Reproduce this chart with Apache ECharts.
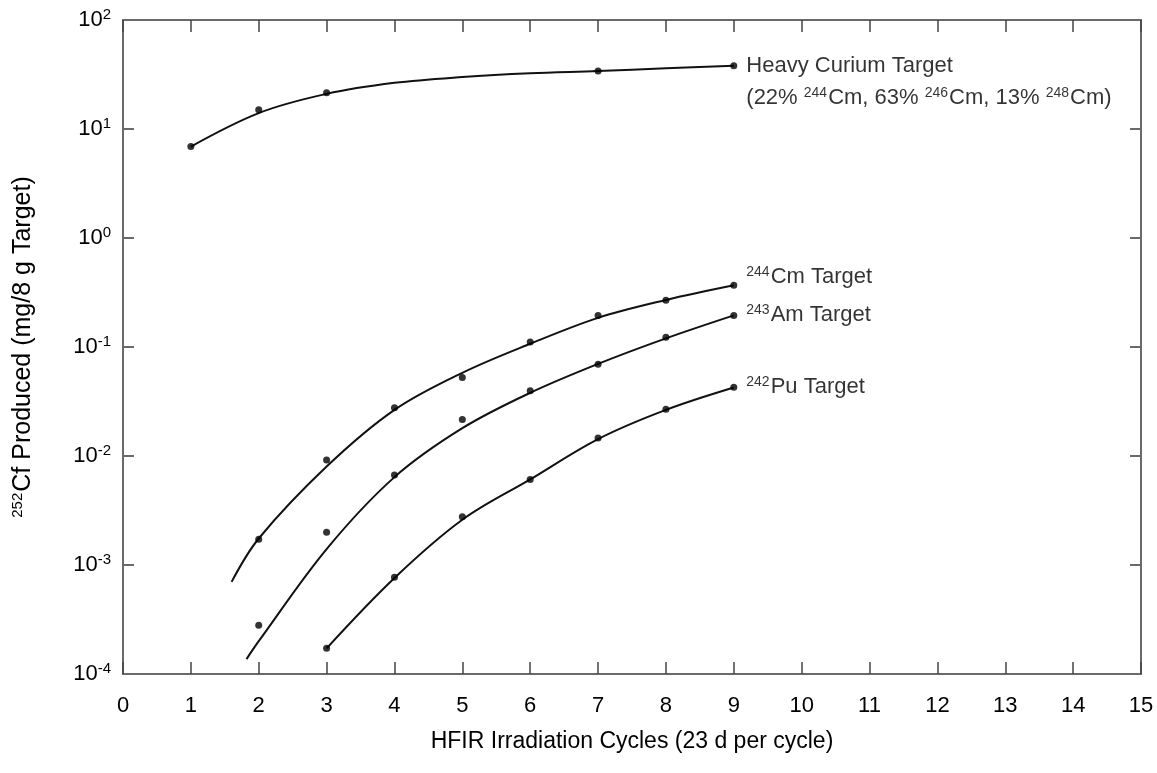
<!DOCTYPE html>
<html>
<head>
<meta charset="utf-8">
<script src="https://cdn.jsdelivr.net/npm/echarts@6/dist/echarts.min.js"></script>
<style>html,body{margin:0;padding:0;background:#fff;}#c{width:1157px;height:773px;}</style>
</head>
<body>
<div id="c"></div>
<script>
// ---- data ----
const xTicks = [0,1,2,3,4,5,6,7,8,9,10,11,12,13,14,15];

// measured points
const heavyPtX = [1, 2, 3, 7, 9];
const heavyPtY = [6.9, 15, 21.5, 34, 38];
const cm244PtX = [2, 3, 4, 5, 6, 7, 8, 9];
const cm244PtY = [1.72e-3, 9.2e-3, 0.0277, 0.0525, 0.111, 0.195, 0.268, 0.368];
const am243PtX = [2, 3, 4, 5, 6, 7, 8, 9];
const am243PtY = [2.8e-4, 2.0e-3, 6.7e-3, 0.0216, 0.0396, 0.0695, 0.123, 0.195];
const pu242PtX = [3, 4, 5, 6, 7, 8, 9];
const pu242PtY = [1.72e-4, 7.7e-4, 2.77e-3, 6.1e-3, 0.0146, 0.0269, 0.0428];

// fitted curves
const heavyCurveX = [1, 2, 3, 4, 5, 6, 7, 8, 9];
const heavyCurveY = [6.9, 14, 21, 26.5, 30, 32.5, 34, 36, 38];
const cm244CurveX = [1.6, 2, 3, 4, 5, 6, 7, 8, 9];
const cm244CurveY = [7e-4, 1.75e-3, 8e-3, 0.0265, 0.058, 0.107, 0.185, 0.27, 0.368];
const am243CurveX = [1.82, 2, 3, 4, 5, 6, 7, 8, 9];
const am243CurveY = [1.37e-4, 2.0e-4, 1.4e-3, 6.4e-3, 0.018, 0.038, 0.07, 0.12, 0.195];
const pu242CurveX = [3, 4, 5, 6, 7, 8, 9];
const pu242CurveY = [1.72e-4, 7.6e-4, 2.6e-3, 6.1e-3, 0.0143, 0.0265, 0.0425];

const heavyLabel = '{t|Heavy Curium Target}\n{t|(22% }{s|244}{t|Cm, 63% }{s|246}{t|Cm, 13% }{s|248}{t|Cm)}';
const cm244Label = '{s|244}{t|Cm Target}';
const am243Label = '{s|243}{t|Am Target}';
const pu242Label = '{s|242}{t|Pu Target}';

// ---- chart ----
const FONT = 'Liberation Sans, Arial, sans-serif';
const TXT = '#000';
const AX = '#6a6a6a';
const rich = {
  t: {fontSize: 22, fontFamily: FONT, color: TXT, lineHeight: 32},
  s: {fontSize: 14, fontFamily: FONT, color: TXT, lineHeight: 32, padding: [0, 1, 10, 0]}
};
const pairs = (xs, ys) => xs.map((x, i) => [x, ys[i]]);

function curve(xs, ys) {
  return {
    type: 'line', data: pairs(xs, ys), smooth: 0.35, showSymbol: false, silent: true,
    lineStyle: {color: '#111', width: 2}, z: 3
  };
}
function points(xs, ys, labelText, offsetY) {
  const data = xs.map((x, i) => {
    const d = {value: [x, ys[i]]};
    if (i === xs.length - 1) {
      d.label = {
        show: true, position: 'right', distance: 9, offset: [0, offsetY],
        formatter: labelText, rich: rich, align: 'left', color: TXT
      };
    }
    return d;
  });
  return {
    type: 'scatter', data: data, symbol: 'circle', symbolSize: 7,
    itemStyle: {color: '#000'}, z: 4, label: {show: false}
  };
}

const chart = echarts.init(document.getElementById('c'), null, {renderer: 'canvas'});
const yFmt = v => {
  const e = Math.round(Math.log10(v));
  return '{b|10}{e|' + e + '}';
};
chart.setOption({
  backgroundColor: '#fff',
  animation: false,
  grid: {left: 123, right: 16, top: 20, bottom: 99, containLabel: false},
  xAxis: [{
    type: 'value', min: 0, max: 15, interval: 1,
    axisLine: {show: true, onZero: false, lineStyle: {color: AX, width: 2}},
    axisTick: {show: true, inside: true, length: 12, lineStyle: {color: '#444', width: 1.5}},
    axisLabel: {fontSize: 22, fontFamily: FONT, color: TXT, margin: 21,
      formatter: v => String(v)},
    splitLine: {show: false},
    name: 'HFIR Irradiation Cycles (23 d per cycle)', nameLocation: 'middle', nameGap: 56,
    nameTextStyle: {fontSize: 23, fontFamily: FONT, color: TXT}
  }, {
    type: 'value', min: 0, max: 15, interval: 1, position: 'top',
    axisLine: {show: true, onZero: false, lineStyle: {color: AX, width: 2}},
    axisTick: {show: true, inside: true, length: 12, lineStyle: {color: '#444', width: 1.5}},
    axisLabel: {show: false}, splitLine: {show: false}
  }],
  yAxis: [{
    type: 'log', logBase: 10, min: 1e-4, max: 100, interval: 1,
    axisLine: {show: true, onZero: false, lineStyle: {color: AX, width: 2}},
    axisTick: {show: true, inside: true, length: 11, lineStyle: {color: AX, width: 2}},
    axisLabel: {margin: 12, formatter: yFmt, rich: {
      b: {fontSize: 22, fontFamily: FONT, color: TXT, lineHeight: 26},
      e: {fontSize: 15, fontFamily: FONT, color: TXT, lineHeight: 26, padding: [0, 0, 11, 0]}
    }},
    splitLine: {show: false},
    name: '{s|252}{t|Cf Produced (mg/8 g Target)}', nameLocation: 'middle', nameGap: 86, nameRotate: 90,
    nameTextStyle: {rich: {
      t: {fontSize: 25, fontFamily: FONT, color: TXT, lineHeight: 28},
      s: {fontSize: 15, fontFamily: FONT, color: TXT, lineHeight: 28, padding: [0, 1, 10, 0]}
    }}
  }, {
    type: 'log', logBase: 10, min: 1e-4, max: 100, interval: 1, position: 'right',
    axisLine: {show: true, onZero: false, lineStyle: {color: AX, width: 2}},
    axisTick: {show: true, inside: true, length: 11, lineStyle: {color: AX, width: 2}},
    axisLabel: {show: false}, splitLine: {show: false}
  }],
  series: [
    curve(heavyCurveX, heavyCurveY),
    curve(cm244CurveX, cm244CurveY),
    curve(am243CurveX, am243CurveY),
    curve(pu242CurveX, pu242CurveY),
    points(heavyPtX, heavyPtY, heavyLabel, 16),
    points(cm244PtX, cm244PtY, cm244Label, -8),
    points(am243PtX, am243PtY, am243Label, 0),
    points(pu242PtX, pu242PtY, pu242Label, 0)
  ]
});
</script>
</body>
</html>
